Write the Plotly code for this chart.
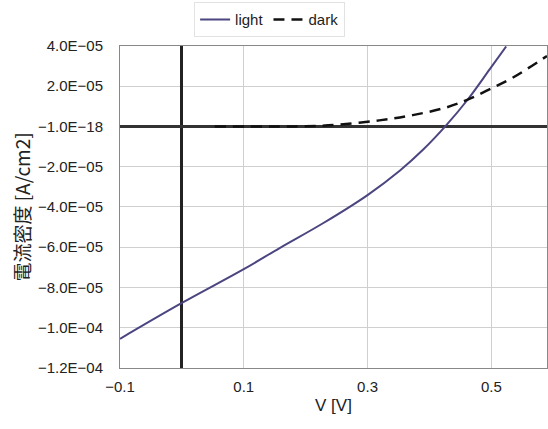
import plotly.graph_objects as go

# Data
v_light = [-0.1, 0.0, 0.1, 0.158, 0.228, 0.3, 0.352, 0.39, 0.427, 0.461, 0.497, 0.524]
j_light = [-1.055e-4, -8.77e-5, -7.09e-5, -6.04e-5, -4.81e-5, -3.41e-5, -2.2e-5, -1.15e-5, 0.05e-5, 1.3e-5, 2.82e-5, 3.97e-5]

v_dark = [0.053, 0.15, 0.2, 0.25, 0.319, 0.373, 0.427, 0.461, 0.497, 0.534, 0.59]
j_dark = [0.0, 0.0, 1e-7, 8e-7, 3.0e-6, 5.6e-6, 9.4e-6, 1.32e-5, 1.84e-5, 2.41e-5, 3.5e-5]

y_tickvals = [4e-5, 2e-5, 0, -2e-5, -4e-5, -6e-5, -8e-5, -1e-4, -1.2e-4]
y_ticktext = ["4.0E\u221205", "2.0E\u221205", "\u22121.0E\u221218", "\u22122.0E\u221205", "\u22124.0E\u221205",
              "\u22126.0E\u221205", "\u22128.0E\u221205", "\u22121.0E\u221204", "\u22121.2E\u221204"]
x_tickvals = [-0.1, 0.1, 0.3, 0.5]
x_ticktext = ["\u22120.1", "0.1", "0.3", "0.5"]

font_family = "Liberation Sans, Arial, sans-serif"
cjk_family = "Noto Sans CJK JP, Liberation Sans, sans-serif"

fig = go.Figure()
fig.add_trace(go.Scatter(x=v_light, y=j_light, mode="lines", name="light",
                         line=dict(color="#4b4580", width=2, shape="spline", smoothing=1)))
fig.add_trace(go.Scatter(x=v_dark, y=j_dark, mode="lines", name="dark",
                         line=dict(color="#111111", width=2.5, dash="11px,7px", shape="spline", smoothing=1)))

fig.update_layout(
    width=548, height=429,
    margin=dict(l=120, r=0, t=43, b=61),
    paper_bgcolor="white", plot_bgcolor="white",
    font=dict(family=font_family, size=15, color="#222"),
    legend=dict(orientation="h", x=0.492, xanchor="center", y=0.995, yanchor="top",
                xref="container", yref="container", bordercolor="#e2e2e2", borderwidth=1,
                font=dict(size=15), bgcolor="white"),
    showlegend=True,
)

fig.update_xaxes(range=[-0.1, 0.59], tickvals=x_tickvals, ticktext=x_ticktext,
                 showgrid=True, gridcolor="#cfcfcf", gridwidth=1,
                 showline=True, linecolor="#888", linewidth=1, mirror=True,
                 zeroline=True, zerolinecolor="#222", zerolinewidth=3,
                 ticks="", tickfont=dict(size=15), ticklabelstandoff=5,
                 title=dict(text="V [V]", font=dict(size=17), standoff=5))
fig.update_yaxes(range=[-1.2e-4, 4e-5], tickvals=y_tickvals, ticktext=y_ticktext,
                 showgrid=True, gridcolor="#cfcfcf", gridwidth=1,
                 showline=True, linecolor="#888", linewidth=1, mirror=True,
                 zeroline=True, zerolinecolor="#333", zerolinewidth=3,
                 ticks="", tickfont=dict(size=15), ticklabelstandoff=13,
                 title=dict(text="電流密度 [A/cm2]", font=dict(size=19, family=cjk_family), standoff=2))

fig.write_html("out.html")
